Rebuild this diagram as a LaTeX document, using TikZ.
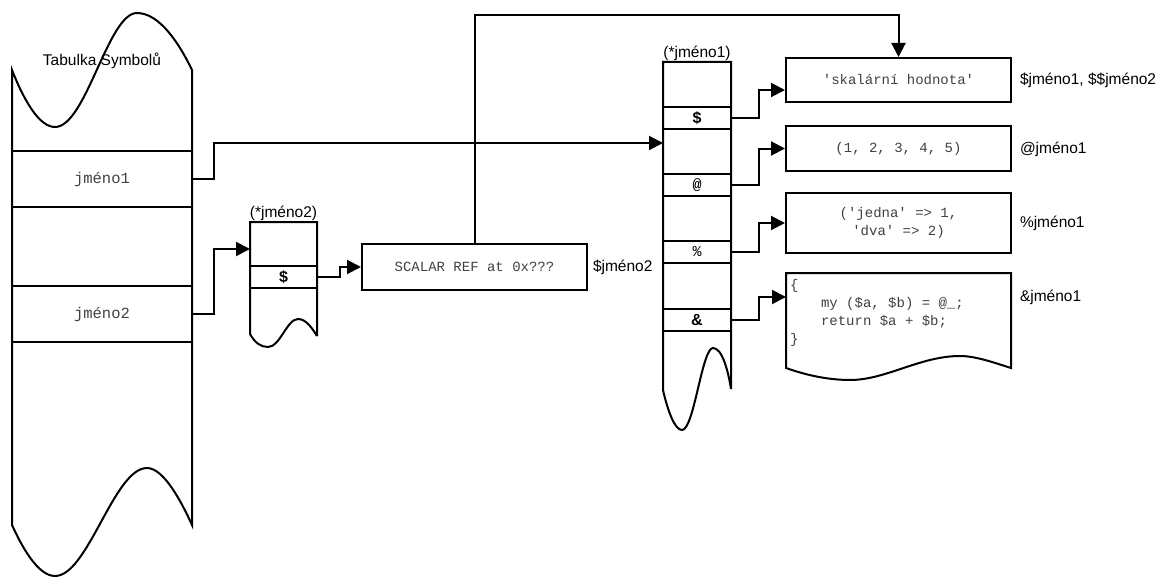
\documentclass[tikz,border=0pt]{standalone}
\usepackage{fontspec}
\setmainfont{Liberation Sans}
\setmonofont{Liberation Mono}
\usetikzlibrary{arrows.meta}
\begin{document}
\begin{tikzpicture}[x=1pt,y=-1pt,line width=2pt,line join=miter,
  outl/.style={draw,line width=2pt},
  cell/.style={draw,line width=2pt,inner sep=0pt,font=\ttfamily\fontsize{15.5}{18}\selectfont,text=black!75},
  sym/.style={draw,line width=2pt,inner sep=0pt,minimum width=68pt,minimum height=22pt,font=\bfseries\fontsize{16}{18}\selectfont},
  valbox/.style={draw,line width=2pt,inner sep=0pt,minimum width=225pt,font=\ttfamily\fontsize{14}{18}\selectfont,text=black!75,align=center},
  lbl/.style={inner sep=0pt,anchor=west,font=\fontsize{15.5}{18}\selectfont},
  ttl/.style={inner sep=0pt,font=\fontsize{15.5}{18}\selectfont},
  conn/.style={line width=2pt,-{Triangle[length=14pt,width=14pt]}},
]
\useasboundingbox (0,0) rectangle (1165,578);

% ---- Symbol table ----
\draw[outl] (12,70) .. controls (25,103) and (40,127) .. (55,127)
  .. controls (86,127) and (108,13) .. (137,13)
  .. controls (160,13) and (180,45) .. (192,70)
  -- (192,525) .. controls (182,503) and (164,468) .. (147,468)
  .. controls (114,468) and (88,576) .. (55,576)
  .. controls (38,576) and (22,547) .. (12,525) -- cycle;
\node[ttl] (stitle) at (102,61) {Tabulka Symbolů};
\node[cell,minimum width=180pt,minimum height=56pt] (j1) at (102,179) {jméno1};
\node[cell,minimum width=180pt,minimum height=56pt] (j2) at (102,314) {jméno2};

% ---- glob jméno2 ----
\draw[outl] (317,336) -- (317,222) -- (250,222) -- (250,334)
  .. controls (255,343) and (261,347) .. (268,347)
  .. controls (280,347) and (287,319) .. (298,319)
  .. controls (306,319) and (312,328) .. (317,336);
\node[ttl,anchor=south] (g2lbl) at (283.5,222) {(*jméno2)};
\node[sym,minimum width=67pt] (g2s) at (283.5,277) {\$};
\coordinate (g2in) at (250,249);

% ---- scalar ref ----
\node[valbox,minimum height=46pt] (sref) at (474.5,267) {SCALAR REF at 0x???};
\node[lbl] (srefl) at (592,267) {\$jméno2};

% ---- glob jméno1 ----
\draw[outl] (731,389) -- (731,62) -- (663,62) -- (663,390)
  .. controls (668,412) and (675,430) .. (682,430)
  .. controls (694,430) and (702,348) .. (713,348)
  .. controls (722,348) and (728,370) .. (731,389);
\node[ttl,anchor=south] (g1lbl) at (697,62) {(*jméno1)};
\node[sym] (gs) at (697,118) {\$};
\node[sym,font=\ttfamily\bfseries\fontsize{15}{16}\selectfont] (ga) at (697,185) {@};
\node[sym,font=\ttfamily\fontsize{15}{16}\selectfont] (gh) at (697,252) {\%};
\node[sym] (gc) at (697,320) {\&};
\coordinate (g1in) at (663,143);

% ---- values ----
\node[valbox,minimum height=44pt] (v1) at (898.5,80) {'skalární hodnota'};
\node[valbox,minimum height=45pt] (v2) at (898.5,148.5) {(1, 2, 3, 4, 5)};
\node[valbox,minimum height=60pt] (v3) at (898.5,223) {('jedna' => 1,\\'dva' => 2)};
\draw[outl] (786,273) -- (1011,273) -- (1011,368)
  .. controls (995,363) and (976,356) .. (960,356)
  .. controls (920,356) and (886,380) .. (850,380)
  .. controls (824,380) and (800,373) .. (786,368) -- cycle;
\node[inner sep=0pt,anchor=north west,align=left,font=\ttfamily\fontsize{14}{18}\selectfont,text=black!75] (v4) at (789,278)
  {\{\\\hspace*{31pt}my (\$a, \$b) = @\_;\\\hspace*{31pt}return \$a + \$b;\\\}};
\coordinate (v4in) at (786,297);

\node[lbl] (l1) at (1019,80) {\$jméno1, \$\$jméno2};
\node[lbl] (l2) at (1019,149) {@jméno1};
\node[lbl] (l3) at (1019,223) {\%jméno1};
\node[lbl] (l4) at (1019,297) {\&jméno1};

% ---- connectors ----
\draw[conn] (j1.east) -- ++(21,0) |- (g1in);
\draw[conn] (j2.east) -- ++(21,0) |- (g2in);
\draw[conn] (g2s.east) -- ++(22,0) |- (sref.west);
\draw[conn] (sref.north) -- (sref.north |- 0,15) -| (v1.north);
\draw[conn] (gs.east) -- ++(27,0) |- ([yshift=-10pt]v1.west);
\draw[conn] (ga.east) -- ++(27,0) |- (v2.west);
\draw[conn] (gh.east) -- ++(27,0) |- (v3.west);
\draw[conn] (gc.east) -- ++(27,0) |- (v4in);
\end{tikzpicture}
\end{document}
